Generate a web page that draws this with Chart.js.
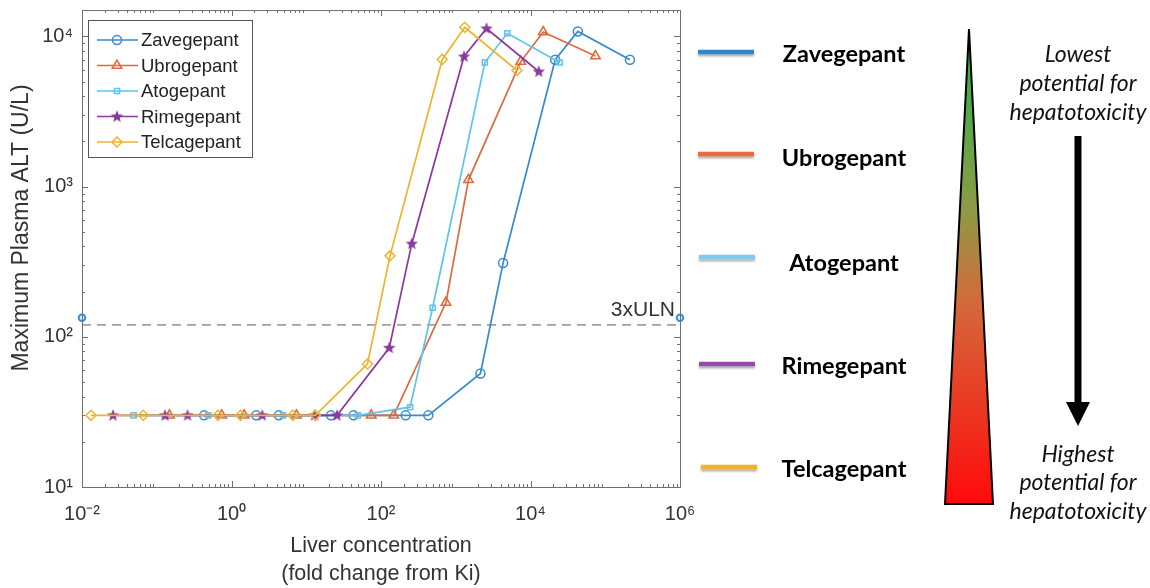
<!DOCTYPE html>
<html>
<head>
<meta charset="utf-8">
<script src="https://cdn.jsdelivr.net/npm/chart.js@4.4.0/dist/chart.umd.min.js"></script>
<style>
  body { margin: 0; width: 1150px; height: 588px; background: #fff; overflow: hidden; position: relative; }
  #wrap { position: absolute; left: 0; top: 0; width: 700px; height: 588px; }
  #side { position: absolute; left: 690px; top: 0; }
</style>
</head>
<body>
<div id="wrap"><canvas id="chart" width="700" height="588"></canvas></div>

<svg id="side" width="460" height="588" xmlns="http://www.w3.org/2000/svg">
  <defs>
    <linearGradient id="risk" x1="0" y1="0" x2="0" y2="1">
      <stop offset="0" stop-color="#1db84a"/>
      <stop offset="0.38" stop-color="#8e9a45"/>
      <stop offset="0.58" stop-color="#d5683a"/>
      <stop offset="1" stop-color="#ff0a0a"/>
    </linearGradient>
    <filter id="shadow" x="-10%" y="-100%" width="120%" height="400%">
      <feDropShadow dx="0" dy="2" stdDeviation="1" flood-color="#000" flood-opacity="0.35"/>
    </filter>
  </defs>
  <g stroke-width="4.5" filter="url(#shadow)">
    <line x1="8" x2="64" y1="52" y2="52" stroke="#2e87c9"/>
    <line x1="8" x2="64" y1="154" y2="154" stroke="#e46c3e"/>
    <line x1="9" x2="65" y1="257" y2="257" stroke="#7ecbef"/>
    <line x1="9" x2="65" y1="364" y2="364" stroke="#924ba6"/>
    <line x1="11" x2="67" y1="467" y2="467" stroke="#efb22a"/>
  </g>
  <g font-family="Lato" font-weight="bold" font-size="23.5" fill="#000" text-anchor="middle" dominant-baseline="central">
    <text x="154" y="53">Zavegepant</text>
    <text x="154" y="157">Ubrogepant</text>
    <text x="154" y="262">Atogepant</text>
    <text x="154" y="365">Rimegepant</text>
    <text x="154" y="468">Telcagepant</text>
  </g>
  <polygon points="279,29 255,504 303,504" fill="url(#risk)" stroke="#000" stroke-width="2" stroke-linejoin="miter"/>
  <rect x="384.5" y="136" width="7" height="268" fill="#000"/>
  <polygon points="376,402 400,402 388,426" fill="#000"/>
  <g font-family="Lato" font-style="italic" font-size="23" fill="#111" text-anchor="middle" dominant-baseline="central">
    <text x="388" y="53">Lowest</text>
    <text x="388" y="82">potential for</text>
    <text x="388" y="111">hepatotoxicity</text>
    <text x="388" y="453">Highest</text>
    <text x="388" y="481">potential for</text>
    <text x="388" y="510">hepatotoxicity</text>
  </g>
</svg>

<script>
// values (x = fold change from Ki, y = max plasma ALT U/L)
const zaveX = [0.43, 2.14, 4.3, 21.4, 43, 214, 430, 2140, 4300, 21400, 43000, 214000]
const zaveY = [30, 30, 30, 30, 30, 30, 30, 57, 310, 7000, 10800, 7000]

const ubroX = [0.148, 0.74, 1.48, 7.4, 74, 148, 740, 1480, 7400, 14800, 74000]
const ubroY = [30, 30, 30, 30, 30, 30, 169, 1110, 6800, 10700, 7400]

const atoX = [0.049, 0.49, 4.9, 49, 245, 490, 2450, 4900, 24500]
const atoY = [30, 30, 30, 30, 34, 156, 6700, 10500, 6700]

const rimeX = [0.026, 0.129, 0.258, 2.58, 12.9, 25.8, 129, 258, 1290, 2580, 12900]
const rimeY = [30, 30, 30, 30, 30, 30, 84.5, 417, 7360, 11300, 5840]

const telcX = [0.0132, 0.066, 0.66, 1.32, 6.6, 13.2, 66, 132, 660, 1320, 6600]
const telcY = [30, 30, 30, 30, 30, 30, 66, 346, 7030, 11500, 5930]

const ulnX = [1e-2, 1e6]
const ulnY = [120, 120]
const edgeY = [134, 134]

const xTicks = [1e-2, 1, 1e2, 1e4, 1e6]
const yTicks = [10, 100, 1000, 10000]

const names = ["Zavegepant", "Ubrogepant", "Atogepant", "Rimegepant", "Telcagepant"]
const colors = ["#3a8bcb", "#e0683c", "#5ec4ee", "#8a3a9e", "#ecb52c"]

const pts = (xs, ys) => xs.map((x, i) => ({ x: x, y: ys[i] }))

const sup = { "-": "\u207b", "0": "\u2070", "1": "\u00b9", "2": "\u00b2", "3": "\u00b3", "4": "\u2074", "5": "\u2075", "6": "\u2076" }
const powLabel = v => "10" + String(Math.round(Math.log10(v))).split("").map(c => sup[c]).join("")

// filled five point star for Rimegepant
function makeStar(color) {
  const c = document.createElement("canvas")
  c.width = 14
  c.height = 14
  const g = c.getContext("2d")
  g.beginPath()
  for (let i = 0; i < 10; i++) {
    const r = i % 2 === 0 ? 6.5 : 2.8
    const a = -Math.PI / 2 + i * Math.PI / 5
    g.lineTo(7 + r * Math.cos(a), 7.3 + r * Math.sin(a))
  }
  g.closePath()
  g.fillStyle = color
  g.fill()
  return c
}
const starImg = makeStar(colors[3])

const styles = [
  { pointStyle: "circle", pointRadius: 4.5 },
  { pointStyle: "triangle", pointRadius: 5.5 },
  { pointStyle: "rect", pointRadius: 3.6 },
  { pointStyle: starImg, pointRadius: 6 },
  { pointStyle: "rectRot", pointRadius: 5 },
]

const series = [pts(zaveX, zaveY), pts(ubroX, ubroY), pts(atoX, atoY), pts(rimeX, rimeY), pts(telcX, telcY)]

const datasets = series.map((d, i) => ({
  label: names[i],
  data: d,
  borderColor: colors[i],
  backgroundColor: colors[i],
  borderWidth: 1.7,
  pointStyle: styles[i].pointStyle,
  pointRadius: styles[i].pointRadius,
  pointBorderColor: colors[i],
  pointBackgroundColor: "rgba(0,0,0,0)",
  pointBorderWidth: 1.5,
  order: 5 - i,
}))

datasets.push({
  label: "3xULN",
  data: pts(ulnX, ulnY),
  borderColor: "#a0a0a0",
  borderDash: [9, 6],
  borderWidth: 1.6,
  pointRadius: 0,
  order: 10,
})
datasets.push({
  label: "edge",
  data: pts(ulnX, edgeY),
  showLine: false,
  pointStyle: "circle",
  pointRadius: 3.3,
  pointBorderWidth: 2,
  pointBorderColor: "#3a8fd0",
  pointBackgroundColor: "#d8ecfa",
  clip: false,
  order: 0,
})

// MATLAB-like box with inward ticks, inside legend, y title and 3xULN note
const matlabBox = {
  id: "matlabBox",
  afterDatasetsDraw(chart) {
    const { ctx, chartArea: a, scales } = chart
    ctx.save()
    ctx.strokeStyle = "#6f6f6f"
    ctx.lineWidth = 1
    ctx.strokeRect(a.left + 0.5, a.top + 0.5, a.right - a.left, a.bottom - a.top)

    const tick = (x1, y1, x2, y2) => { ctx.beginPath(); ctx.moveTo(x1, y1); ctx.lineTo(x2, y2); ctx.stroke() }
    for (let e = -2; e < 6; e++) {
      for (let m = 1; m < 10; m++) {
        const px = Math.round(scales.x.getPixelForValue(m * Math.pow(10, e))) + 0.5
        const len = m === 1 ? 6 : 3
        if (e % 2 !== 0 && m === 1) continue
        tick(px, a.bottom, px, a.bottom - len)
        tick(px, a.top, px, a.top + len)
      }
    }
    for (let e = 1; e < 5; e++) {
      for (let m = 1; m < 10; m++) {
        const v = m * Math.pow(10, e)
        if (v > 15000) break
        const py = Math.round(scales.y.getPixelForValue(v)) + 0.5
        const len = m === 1 ? 6 : 3
        tick(a.left, py, a.left + len, py)
        tick(a.right, py, a.right - len, py)
      }
    }

    // y axis title
    ctx.save()
    ctx.translate(22, 228)
    ctx.rotate(-Math.PI / 2)
    ctx.fillStyle = "#333"
    ctx.font = "23px 'Liberation Sans'"
    ctx.textAlign = "center"
    ctx.textBaseline = "middle"
    ctx.fillText("Maximum Plasma ALT (U/L)", 0, 0)
    ctx.restore()

    // 3xULN note
    ctx.fillStyle = "#333"
    ctx.font = "21px 'Liberation Sans'"
    ctx.textAlign = "right"
    ctx.textBaseline = "middle"
    ctx.fillText("3xULN", a.right - 5, scales.y.getPixelForValue(120) - 15)

    // legend box
    const bx = a.left + 6, by = a.top + 10, bw = 164, bh = 137
    ctx.fillStyle = "#fff"
    ctx.fillRect(bx, by, bw, bh)
    ctx.strokeStyle = "#555"
    ctx.strokeRect(bx + 0.5, by + 0.5, bw, bh)
    ctx.font = "18.5px 'Liberation Sans'"
    ctx.textAlign = "left"
    for (let i = 0; i < 5; i++) {
      const y = by + 20 + i * 25.5
      ctx.strokeStyle = colors[i]
      ctx.lineWidth = 1.7
      tick(bx + 9, y, bx + 50, y)
      ctx.fillStyle = "rgba(0,0,0,0)"
      ctx.lineWidth = 1.5
      Chart.helpers.drawPoint(ctx, { pointStyle: styles[i].pointStyle, radius: styles[i].pointRadius, rotation: 0, borderWidth: 1.5 }, bx + 29, y)
      ctx.fillStyle = "#222"
      ctx.fillText(names[i], bx + 53, y + 1)
    }
    ctx.restore()
  },
}

Chart.defaults.font.family = "'Liberation Sans', Arial, sans-serif"

new Chart(document.getElementById("chart"), {
  type: "line",
  data: { datasets: datasets },
  options: {
    responsive: false,
    animation: false,
    layout: { padding: { top: 10, right: 20, left: 0, bottom: 0 } },
    plugins: { legend: { display: false }, tooltip: { enabled: false } },
    scales: {
      x: {
        type: "logarithmic",
        min: 1e-2,
        max: 1e6,
        grid: { display: false, drawTicks: false },
        border: { display: false },
        afterBuildTicks: s => { s.ticks = xTicks.map(v => ({ value: v })) },
        afterFit: s => { s.height = 101; s.paddingLeft = 0; s.paddingRight = 0 },
        ticks: { callback: v => powLabel(v), color: "#333", font: { size: 20 }, padding: 15, maxRotation: 0, autoSkip: false },
        title: { display: true, text: ["Liver concentration", "(fold change from Ki)"], color: "#333", font: { size: 21.5, lineHeight: 1.3 }, padding: { top: 0, bottom: 0 } },
      },
      y: {
        type: "logarithmic",
        min: 10,
        max: 15000,
        grid: { display: false, drawTicks: false },
        border: { display: false },
        afterBuildTicks: s => { s.ticks = yTicks.map(v => ({ value: v })) },
        afterFit: s => { s.width = 82; s.paddingTop = 0; s.paddingBottom = 0 },
        ticks: { callback: v => powLabel(v), color: "#333", font: { size: 20 }, padding: 9, autoSkip: false },
        title: { display: false },
      },
    },
  },
  plugins: [matlabBox],
})
</script>
</body>
</html>
